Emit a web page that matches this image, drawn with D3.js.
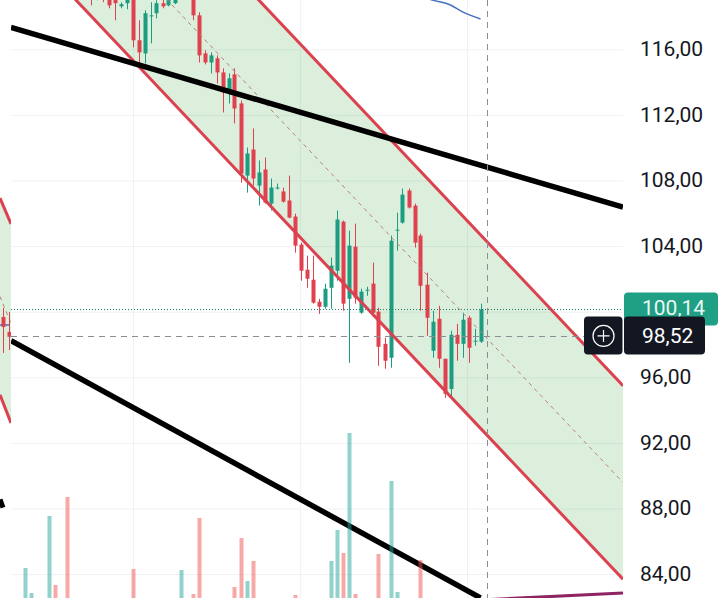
<!DOCTYPE html>
<html>
<head>
<meta charset="utf-8">
<script src="https://cdn.jsdelivr.net/npm/d3@7"></script>
<style>
  html, body { margin: 0; padding: 0; background: #fff; }
  svg { display: block; }
</style>
</head>
<body>
<div id="chart"></div>
<script>
// bar slots -16..62, one entry per bar (slots left of -4 sit above the visible range)
const slots = d3.range(-16, 63);
const open = [124.8, 124.1, 124.6, 125.5, 125.7, 124.9, 124.0, 125.8, 125.2, 125.5, 122.4, 121.0,
  120.52, 119.91, 119.17, 119.48, 119.30, 119.60, 118.62, 118.81, 119.91, 116.55, 115.75, 118.01, 118.20, 118.81,
  118.68, 118.81, 119.48, 120.52, 119.60, 118.07, 115.75, 115.20, 115.45, 114.59, 113.31, 114.47, 112.70, 108.30,
  109.89, 107.69, 108.67, 106.59, 107.51, 107.33, 106.78, 105.80, 104.09, 102.56, 101.95, 100.61, 100.30, 101.46,
  102.50, 105.49, 100.79, 103.97, 99.94, 101.28, 101.71, 100.00, 98.04, 97.19, 104.94, 105.43, 107.39, 106.47,
  104.64, 101.65, 97.62, 99.57, 97.13, 95.29, 98.59, 98.04, 99.63, 98.17, 98.17];
const high = [125.3, 125.0, 125.9, 125.9, 126.0, 125.2, 126.2, 126.1, 125.8, 125.7, 122.8, 121.8,
  120.82, 120.21, 120.09, 119.72, 119.60, 119.85, 118.87, 119.60, 120.21, 117.77, 118.38, 118.87, 118.99, 119.11,
  119.36, 119.48, 120.52, 120.82, 119.91, 118.26, 115.94, 115.81, 115.63, 114.84, 114.53, 114.84, 112.88, 110.01,
  111.17, 109.22, 109.40, 108.12, 107.81, 107.57, 108.30, 105.98, 104.21, 103.42, 103.42, 100.79, 101.71, 103.30,
  106.17, 105.56, 104.94, 105.37, 101.40, 101.52, 102.99, 100.24, 98.41, 104.64, 106.04, 107.51, 107.51, 106.59,
  104.76, 102.38, 100.06, 100.36, 97.13, 98.84, 99.26, 99.94, 99.75, 98.96, 100.49];
const low = [123.9, 123.8, 124.3, 125.0, 124.6, 123.7, 123.6, 124.9, 124.8, 121.9, 120.9, 120.6,
  119.30, 118.68, 118.99, 118.87, 118.50, 117.77, 118.50, 118.44, 116.12, 115.14, 115.14, 116.36, 117.89, 118.50,
  118.62, 118.75, 119.17, 119.30, 117.77, 115.20, 115.08, 114.53, 113.92, 112.15, 112.70, 111.48, 107.87, 107.26,
  107.69, 106.47, 106.59, 106.17, 107.45, 106.65, 105.70, 103.60, 101.89, 101.46, 100.49, 99.87, 100.18, 100.18,
  101.89, 100.06, 96.88, 100.49, 99.87, 100.97, 99.90, 96.70, 96.52, 96.58, 103.72, 105.37, 106.29, 103.91,
  100.06, 98.53, 97.19, 96.58, 94.75, 94.75, 97.01, 97.19, 96.88, 97.92, 98.10];
const close = [124.1, 124.6, 125.5, 125.7, 124.9, 124.0, 125.8, 125.2, 125.5, 122.4, 121.3, 121.3,
  119.72, 119.11, 119.72, 119.05, 118.68, 118.81, 118.75, 119.30, 116.55, 115.81, 118.20, 118.07, 118.81, 118.62,
  119.11, 119.23, 120.21, 119.60, 118.07, 115.63, 115.20, 115.63, 114.59, 113.37, 114.23, 112.39, 108.42, 109.65,
  108.12, 108.49, 106.65, 107.57, 107.57, 106.71, 105.74, 104.03, 102.50, 102.01, 100.55, 100.30, 101.40, 102.81,
  105.62, 100.49, 104.03, 100.85, 101.22, 101.34, 99.94, 97.86, 97.01, 104.33, 105.00, 107.14, 106.35, 104.21,
  101.58, 99.63, 99.39, 97.13, 94.99, 98.59, 98.04, 99.51, 97.80, 98.23, 100.14];
const volume = [0.08, 0.10, 0.42, 0.17, 0.09, 0.11, 0.94, 0.25, 0.07, 1.13, 0.10, 0.06,
  0.09, 0.05, 0.07, 0.04, 0.08, 0.10, 0.03, 0.05, 0.41, 0.09, 0.11, 0.06, 0.04, 0.03,
  0.05, 0.04, 0.40, 0.07, 0.16, 0.92, 0.06, 0.04, 0.08, 0.10, 0.07, 0.23, 0.72, 0.29,
  0.49, 0.09, 0.11, 0.06, 0.03, 0.05, 0.10, 0.15, 0.11, 0.07, 0.09, 0.05, 0.08, 0.49,
  0.80, 0.57, 1.77, 0.16, 0.06, 0.03, 0.10, 0.56, 0.11, 1.29, 0.18, 0.10, 0.07, 0.09,
  0.50, 0.11, 0.08, 0.10, 0.11, 0.09, 0.05, 0.06, 0.07, 0.04, 0.08];

// moving average piece (top right)
const maSlots = [52, 54, 57, 59, 62];
const maValues = [119.25, 119.0, 118.70, 118.28, 117.85];

// regression channel: midline anchors + half width
const channelSlots = [-16, 85.75];
const channelMid = [129.0, 89.59];
const channelHalf = 5.9;

// trend lines [slot, price]
const upperTrend = [[-16.25, 117.34], [85.75, 106.38]];
const lowerTrend = [[-16.25, 98.23], [62, 82.55]];
const baseTrend = [[58, 82.35], [85.75, 82.85]];

// last price / crosshair
const lastPrice = 100.14;
const crossPrice = 98.52;
const crossSlot = 63;

// axis
const gridPrices = [84, 88, 92, 96, 100, 104, 108, 112, 116];
const axisLabels = [116, 112, 108, 104, 96, 92, 88, 84];
const timeGrid = [4.08, 31.9, 59.75];

// small strip at the left edge (another view of the same chart)
const ghostSlots = [60.42, 62.25];
const ghostTop = [106.93, 105.35];
const ghostBottom = [94.93, 93.22];
const ghostCandleSlots = [61, 62];
const ghostOpen = [99.68, 98.77];
const ghostHigh = [100.23, 99.98];
const ghostLow = [97.48, 97.66];
const ghostClose = [99.07, 98.47];
const ghostMa = [[60.42, 99.19], [62.0, 99.19]];
const ghostTrend = [[60.42, 88.55], [60.92, 88.06]];

const W = 722, H = 598;
const plotL = 11, plotR = 623;
const UP = "#1c9c80", DOWN = "#e0414f";
const fmt = d3.formatLocale({ decimal: ",", thousands: ".", grouping: [3], currency: ["", ""] }).format(".2f");
const FONT = "Roboto, 'Noto Sans', sans-serif";

const x = d3.scaleLinear().domain([-16.25, 85.75]).range([plotL, plotR]);
const y = d3.scaleLinear().domain([84, 116]).range([574.1, 49.3]);
const yVol = d3.scaleLinear().domain([0, 2]).range([610, 410]);
const gx = d3.scaleLinear().domain([60.42, 62.25]).range([0, 11]);

const bars = slots.map((s, i) => ({ s, o: open[i], h: high[i], l: low[i], c: close[i], v: volume[i] }));

const svg = d3.select("#chart").append("svg").attr("width", W).attr("height", H);
svg.append("rect").attr("width", W).attr("height", H).attr("fill", "#fff");
const defs = svg.append("defs");
defs.append("clipPath").attr("id", "plot").append("rect").attr("x", plotL).attr("y", 0).attr("width", plotR - plotL).attr("height", H);
defs.append("clipPath").attr("id", "ghost").append("rect").attr("x", 0).attr("y", 0).attr("width", plotL).attr("height", H);

// grid
const gGrid = svg.append("g").attr("clip-path", "url(#plot)");
gGrid.append("g").attr("transform", `translate(${plotL},0)`)
  .call(d3.axisRight(y).tickValues(gridPrices).tickSize(plotR - plotL).tickFormat(""))
  .call(g => g.select(".domain").remove())
  .call(g => g.selectAll("line").attr("stroke", "#eff1f5"));
gGrid.append("g")
  .call(d3.axisBottom(x).tickValues(timeGrid).tickSize(H).tickFormat(""))
  .call(g => g.select(".domain").remove())
  .call(g => g.selectAll("line").attr("stroke", "#eff1f5"));

const g = svg.append("g").attr("clip-path", "url(#plot)");

// channel fill
const chan = channelSlots.map((s, i) => ({ s, m: channelMid[i] }));
g.append("path").datum(chan)
  .attr("fill", "rgba(76,175,80,0.2)")
  .attr("d", d3.area().x(d => x(d.s)).y0(d => y(d.m - channelHalf)).y1(d => y(d.m + channelHalf)));

// candles
const gc = g.append("g");
gc.selectAll("line").data(bars).join("line")
  .attr("x1", d => Math.round(x(d.s)) + 0.5).attr("x2", d => Math.round(x(d.s)) + 0.5)
  .attr("y1", d => y(d.h)).attr("y2", d => y(d.l))
  .attr("stroke", d => d.c >= d.o ? UP : DOWN).attr("stroke-width", 1);
gc.selectAll("rect").data(bars).join("rect")
  .attr("x", d => Math.round(x(d.s)) - 1.5).attr("width", 4)
  .attr("y", d => y(Math.max(d.o, d.c)))
  .attr("height", d => Math.max(1, y(Math.min(d.o, d.c)) - y(Math.max(d.o, d.c))))
  .attr("fill", d => d.c >= d.o ? UP : DOWN);

// channel lines
const line = d3.line().x(d => x(d[0])).y(d => y(d[1]));
const chanEdge = k => chan.map(d => [d.s, d.m + k * channelHalf]);
g.append("path").attr("d", line(chanEdge(0))).attr("fill", "none")
  .attr("stroke", "#b8807a").attr("stroke-width", 1).attr("stroke-dasharray", "4 4");
[1, -1].forEach(k => g.append("path").attr("d", line(chanEdge(k))).attr("fill", "none")
  .attr("stroke", "#dc414f").attr("stroke-width", 3));

// trend lines
[upperTrend, lowerTrend].forEach(t => g.append("path").attr("d", line(t)).attr("fill", "none")
  .attr("stroke", "#000").attr("stroke-width", 5.5));
g.append("path").attr("d", line(baseTrend)).attr("fill", "none").attr("stroke", "#8e2463").attr("stroke-width", 3);

// moving average
g.append("path").datum(maSlots.map((s, i) => [s, maValues[i]]))
  .attr("d", d3.line().x(d => x(d[0])).y(d => y(d[1])).curve(d3.curveMonotoneX))
  .attr("fill", "none").attr("stroke", "#4470c4").attr("stroke-width", 1.5);

// volume
g.append("g").selectAll("rect").data(bars).join("rect")
  .attr("x", d => Math.round(x(d.s)) - 1.5).attr("width", 4)
  .attr("y", d => yVol(d.v)).attr("height", d => yVol(0) - yVol(d.v))
  .attr("fill", d => d.c >= d.o ? "rgba(38,166,154,0.5)" : "rgba(239,83,80,0.5)");

// last price + crosshair lines
g.append("line").attr("x1", plotL).attr("x2", plotR)
  .attr("y1", Math.round(y(lastPrice)) + 0.5).attr("y2", Math.round(y(lastPrice)) + 0.5)
  .attr("stroke", "#1a7f6c").attr("stroke-dasharray", "1 2");
g.append("line").attr("x1", plotL).attr("x2", plotR)
  .attr("y1", Math.round(y(crossPrice)) + 0.5).attr("y2", Math.round(y(crossPrice)) + 0.5)
  .attr("stroke", "#8a8d96").attr("stroke-dasharray", "6 5");
g.append("line").attr("x1", Math.round(x(crossSlot)) + 0.5).attr("x2", Math.round(x(crossSlot)) + 0.5)
  .attr("y1", 0).attr("y2", H)
  .attr("stroke", "#8a8d96").attr("stroke-dasharray", "6 5");

// left strip
const gg = svg.append("g").attr("clip-path", "url(#ghost)");
const ghostChan = ghostSlots.map((s, i) => ({ s, t: ghostTop[i], b: ghostBottom[i] }));
gg.append("path").datum(ghostChan).attr("fill", "rgba(76,175,80,0.2)")
  .attr("d", d3.area().x(d => gx(d.s)).y0(d => y(d.b)).y1(d => y(d.t)));
const gline = d3.line().x(d => gx(d[0])).y(d => y(d[1]));
gg.append("path").attr("d", gline(ghostChan.map(d => [d.s, (d.t + d.b) / 2]))).attr("fill", "none")
  .attr("stroke", "#b8807a").attr("stroke-dasharray", "4 4");
gg.append("path").attr("d", gline(ghostMa)).attr("stroke", "#4470c4").attr("stroke-width", 1.5);
ghostCandleSlots.forEach((s, i) => {
  const col = ghostClose[i] >= ghostOpen[i] ? UP : DOWN;
  gg.append("line").attr("x1", Math.round(gx(s)) + 0.5).attr("x2", Math.round(gx(s)) + 0.5)
    .attr("y1", y(ghostHigh[i])).attr("y2", y(ghostLow[i])).attr("stroke", col);
  gg.append("rect").attr("x", Math.round(gx(s)) - 1.5).attr("width", 4)
    .attr("y", y(Math.max(ghostOpen[i], ghostClose[i])))
    .attr("height", Math.abs(y(ghostOpen[i]) - y(ghostClose[i]))).attr("fill", col);
});
[ghostChan.map(d => [d.s, d.t]), ghostChan.map(d => [d.s, d.b])].forEach(t =>
  gg.append("path").attr("d", gline(t)).attr("fill", "none").attr("stroke", "#dc414f").attr("stroke-width", 3));
gg.append("path").attr("d", gline(ghostTrend)).attr("stroke", "#000").attr("stroke-width", 5);

// price axis
svg.append("g").attr("transform", `translate(${plotR},0)`)
  .call(d3.axisRight(y).tickValues(axisLabels).tickFormat(fmt).tickSize(0).tickPadding(17))
  .call(a => a.select(".domain").remove())
  .call(a => a.selectAll("text").attr("font-family", FONT).attr("font-size", 21)
    .attr("fill", "#131722").attr("dy", "0.3em"));

// last price label
svg.append("rect").attr("x", 624).attr("y", 292.5).attr("width", 94).attr("height", 33).attr("rx", 4)
  .attr("fill", "#1f9f83");
svg.append("text").attr("x", 642).attr("y", y(lastPrice) + 6)
  .attr("font-family", FONT).attr("font-size", 21).attr("fill", "#e8f8f2").text(fmt(lastPrice));

// crosshair label
svg.append("rect").attr("x", 584).attr("y", 316.5).attr("width", 38.5).attr("height", 38).attr("rx", 4).attr("fill", "#131722");
svg.append("rect").attr("x", 624).attr("y", 316.5).attr("width", 81).attr("height", 38).attr("rx", 4).attr("fill", "#131722");
const cy = y(crossPrice);
svg.append("circle").attr("cx", 603.5).attr("cy", cy).attr("r", 10.5)
  .attr("fill", "none").attr("stroke", "#fff").attr("stroke-width", 1.2);
svg.append("path").attr("d", `M597.5,${cy}H609.5M603.5,${cy - 6}V${cy + 6}`).attr("stroke", "#fff").attr("stroke-width", 1.2);
svg.append("text").attr("x", 642).attr("y", cy + 7)
  .attr("font-family", FONT).attr("font-size", 21).attr("fill", "#fff").text(fmt(crossPrice));
</script>
</body>
</html>
